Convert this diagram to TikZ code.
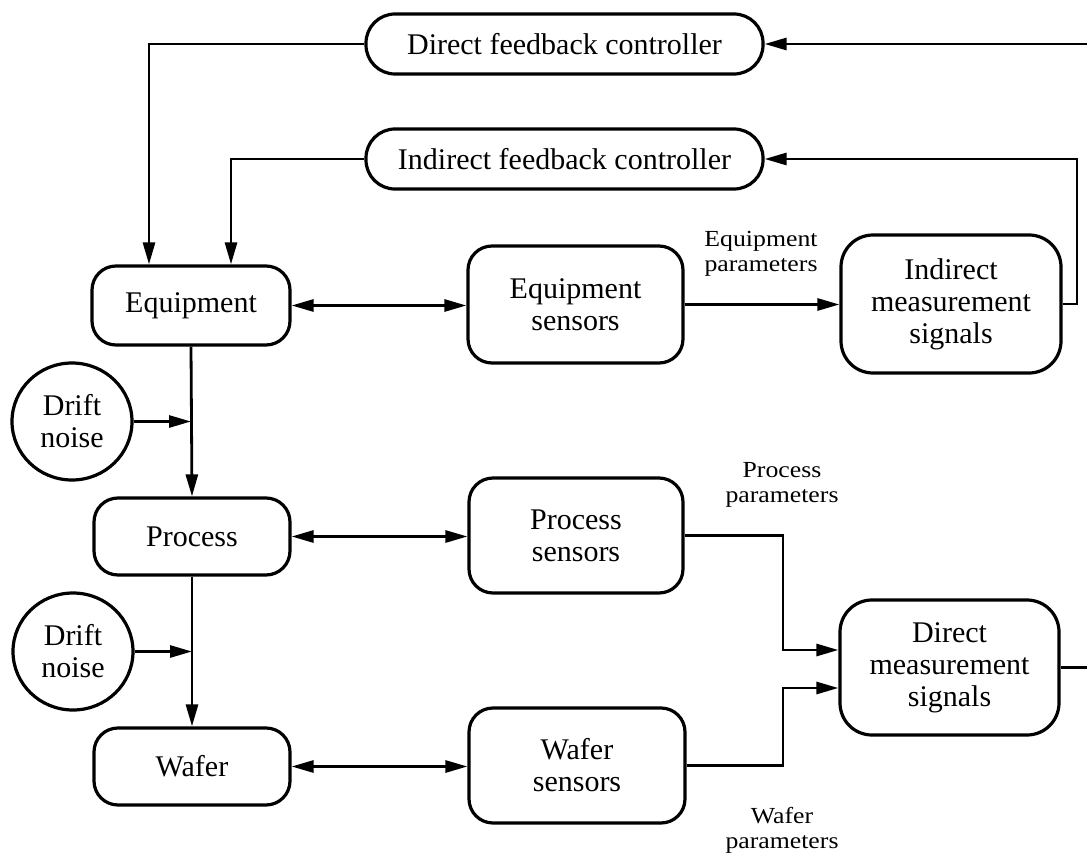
\documentclass[tikz,border=0pt]{standalone}
\usepackage{fontspec}
\setmainfont{Liberation Serif}
\newfontfamily\lblfont[FakeStretch=1.12]{Liberation Serif}
\usetikzlibrary{arrows.meta,shapes.geometric}
\tikzset{
  box/.style={draw, line width=3.2pt, rounded corners=24pt, align=center, inner sep=0pt,
    font=\fontsize{30}{32}\selectfont},
  pill/.style={draw, line width=3.2pt, rounded corners=29pt, align=center, inner sep=0pt,
    minimum width=397pt, minimum height=60pt, font=\fontsize{30}{32}\selectfont},
  noise/.style={draw, ellipse, line width=3.2pt, align=center, inner sep=0pt,
    minimum width=120pt, minimum height=117pt, font=\fontsize{30}{32}\selectfont},
  lbl/.style={align=center, inner sep=0pt, font=\lblfont\fontsize{23}{25}\selectfont},
  tip/.tip={Triangle[length=22pt,width=12pt]},
  conn/.style={line width=2.8pt, -tip},
  conn2/.style={line width=2.8pt, tip-tip},
  plain/.style={line width=2.8pt}
}
\begin{document}
\begin{tikzpicture}[x=1pt,y=-1pt]
\useasboundingbox (0,0) rectangle (1087,856);
% nodes
\node[pill] (dfc) at (564.5,44) {Direct feedback controller};
\node[pill] (ifc) at (564.5,159) {Indirect feedback controller};
\node[box, minimum width=198pt, minimum height=79pt] (equip) at (191,305.5) {Equipment};
\node[box, minimum width=215pt, minimum height=117pt] (eqs) at (575.5,304.5) {Equipment\\sensors};
\node[box, minimum width=220pt, minimum height=138pt, rounded corners=32pt] (ims) at (951,304) {Indirect\\measurement\\signals};
\node[box, minimum width=196pt, minimum height=77pt] (proc) at (192,536.5) {Process};
\node[box, minimum width=214pt, minimum height=115pt] (prs) at (576,535.5) {Process\\sensors};
\node[box, minimum width=196pt, minimum height=77pt] (wafer) at (192,766.5) {Wafer};
\node[box, minimum width=216pt, minimum height=115pt] (wfs) at (577,765.5) {Wafer\\sensors};
\node[box, minimum width=219pt, minimum height=135pt, rounded corners=32pt] (dms) at (949.5,667.5) {Direct\\measurement\\signals};
\node[noise] (n1) at (72,421.5) {Drift\\noise};
\node[noise] (n2) at (73,651.5) {Drift\\noise};
% labels
\node[lbl] (lb1) at (761,254) {Equipment\\parameters};
\node[lbl] (lb2) at (782,485) {Process\\parameters};
\node[lbl] (lb3) at (782,830) {Wafer\\parameters};
% coordinates
\coordinate (in1) at (1087,44);
\coordinate (out1) at (1087,667.5);
\coordinate (rx) at (1077,159);
\coordinate (j1) at (783,650);
\coordinate (j2) at (783,688);
% connectors
\draw[conn] (dfc.west) -| ([xshift=-42pt]equip.north);
\draw[conn] (ifc.west) -| ([xshift=40pt]equip.north);
\draw[conn] (in1) -- (dfc.east);
\draw[conn] (ims.east) -| (rx) -- (ifc.east);
\draw[conn2] (equip.east) -- (eqs.west |- equip.east);
\draw[conn] (eqs.east) -- (ims.west |- eqs.east);
\draw[conn2] (proc.east) -- (prs.west |- proc.east);
\draw[conn2] (wafer.east) -- (wfs.west |- wafer.east);
\draw[conn] (equip.south) -- (proc.north);
\draw[conn] (proc.south) -- (wafer.north);
\draw[conn] (n1.east) -- (n1.east -| equip.south);
\draw[conn] (n2.east) -- (n2.east -| proc.south);
\draw[conn] (prs.east) -| (j1) -- (j1 -| dms.west);
\draw[conn] (wfs.east) -| (j2) -- (j2 -| dms.west);
\draw[plain] (dms.east) -- (out1);
\end{tikzpicture}
\end{document}
